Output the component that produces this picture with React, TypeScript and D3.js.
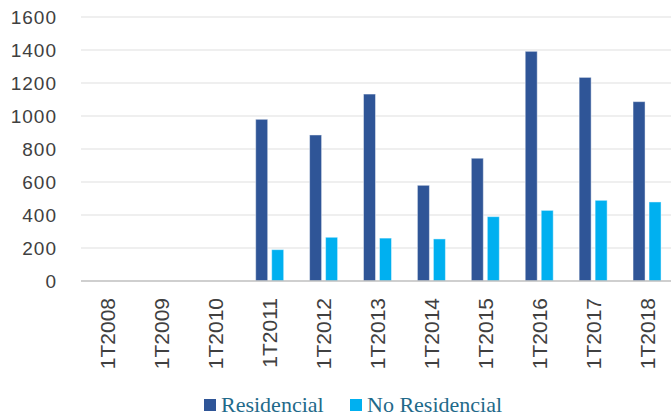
import React from "react";
import * as d3 from "d3";

const categories = ["1T2008", "1T2009", "1T2010", "1T2011", "1T2012", "1T2013", "1T2014", "1T2015", "1T2016", "1T2017", "1T2018"];
const seriesNames = ["Residencial", "No Residencial"];
const residencial: (number | null)[] = [null, null, null, 980, 885, 1133, 580, 744, 1392, 1234, 1087];
const noResidencial: (number | null)[] = [null, null, null, 190, 265, 260, 255, 390, 428, 489, 479];
const yTicks = [0, 200, 400, 600, 800, 1000, 1200, 1400, 1600];
const colors = ["#2f5597", "#00b0f0"];

const W = 671;
const H = 419;

export default function App() {
  const x0 = d3.scaleBand<string>().domain(categories).range([81, 674]).padding(0);
  const bw = x0.bandwidth();
  const x1 = d3
    .scaleBand<string>()
    .domain(seriesNames)
    .range([bw / 2 - 14, bw / 2 + 14])
    .paddingInner(0.25)
    .paddingOuter(0);
  const y = d3.scaleLinear().domain([0, 1600]).range([281, 17]);
  const values = [residencial, noResidencial];

  return (
    <svg
      width={W}
      height={H}
      style={{ position: "absolute", left: 0, top: 0, background: "#fff" }}
      fontFamily="'Liberation Sans', Arial, sans-serif"
    >
      <rect x={0} y={0} width={W} height={H} fill="#fff" />
      {yTicks.map((t) => (
        <g key={t}>
          {t !== 0 && (
            <line x1={81} x2={W} y1={y(t)} y2={y(t)} stroke="#efefef" strokeWidth={2} />
          )}
          <text
            x={57}
            y={y(t)}
            textAnchor="end"
            dominantBaseline="central"
            fontSize={19}
            letterSpacing={1}
            fill="#404040"
          >
            {t}
          </text>
        </g>
      ))}
      {seriesNames.map((s, si) =>
        categories.map((c, ci) => {
          const v = values[si][ci];
          if (v == null) return null;
          const bx = (x0(c) as number) + (x1(s) as number);
          return (
            <rect
              key={s + c}
              x={bx}
              y={y(v)}
              width={x1.bandwidth()}
              height={y(0) - y(v)}
              fill={colors[si]}
              stroke="#ffffff"
              strokeOpacity={0.45}
              strokeWidth={1}
            />
          );
        })
      )}
      <line x1={81} x2={W} y1={y(0)} y2={y(0)} stroke="#bfbfbf" strokeWidth={1.5} />
      {categories.map((c) => {
        const cx = (x0(c) as number) + bw / 2;
        return (
          <text
            key={c}
            transform={`translate(${cx},298) rotate(-90)`}
            textAnchor="end"
            dominantBaseline="central"
            fontSize={21}
            fill="#404040"
          >
            {c}
          </text>
        );
      })}
      {seriesNames.map((s, i) => {
        const lx = i === 0 ? 204 : 350;
        return (
          <g key={s}>
            <rect x={lx} y={399} width={12} height={12} fill={colors[i]} />
            <text
              x={lx + 17}
              y={412}
              fontFamily="'Liberation Serif', 'Times New Roman', serif"
              fontSize={22}
              fill="#1f6a8a"
            >
              {s}
            </text>
          </g>
        );
      })}
    </svg>
  );
}
